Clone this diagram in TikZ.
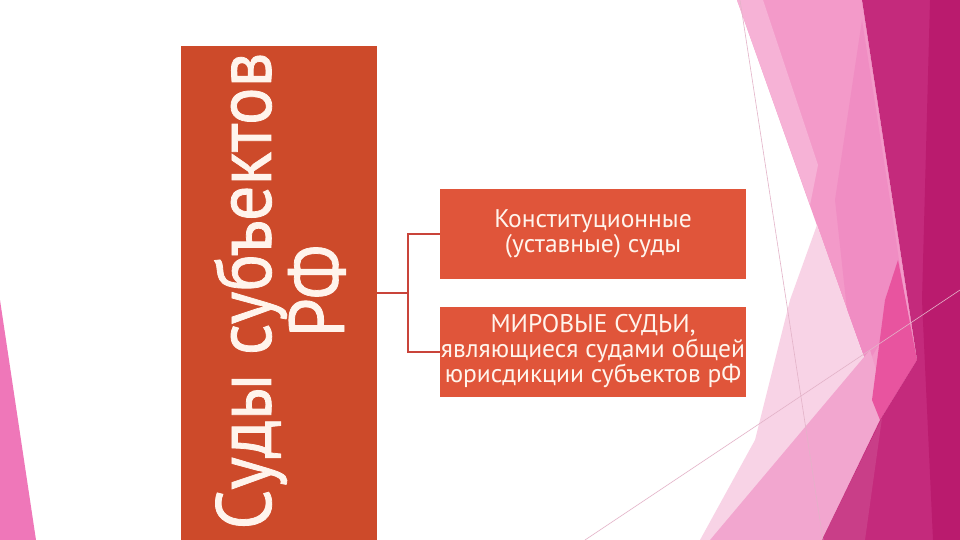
\documentclass[tikz,border=0pt]{standalone}
\usepackage{fontspec}
\setmainfont{PT Sans}
\newfontfamily\titlefont[FakeStretch=0.9,FakeBold=1]{PT Sans}
\usetikzlibrary{positioning}

\definecolor{courtdark}{HTML}{CD4A2A}
\definecolor{courtlight}{HTML}{E0553A}
\definecolor{linkred}{HTML}{C9443A}
\definecolor{paper}{HTML}{FFF4EC}
\definecolor{pinkside}{HTML}{EF77B9}
\definecolor{pinkstrip}{HTML}{F6B2D6}
\definecolor{pinkband}{HTML}{F39AC9}
\definecolor{pinkinner}{HTML}{F08DC3}
\definecolor{pinkpale}{HTML}{F8D3E6}
\definecolor{pinklow}{HTML}{F2A6CF}
\definecolor{pinkhot}{HTML}{E8549F}
\definecolor{magbase}{HTML}{C42A7C}
\definecolor{magdark}{HTML}{BA1B6E}
\definecolor{maglight}{HTML}{C93E88}
\definecolor{facetline}{HTML}{E3B3C8}

\begin{document}
\begin{tikzpicture}
[x=1pt,y=-1pt,
 court/.style={shape=rectangle,fill=courtlight,text=paper,inner sep=0pt,
   minimum width=306pt,minimum height=90pt,align=center,
   font=\fontsize{25.5}{25}\selectfont},
 rootbox/.style={shape=rectangle,fill=courtdark,inner sep=0pt,
   minimum width=196pt,minimum height=494pt,anchor=north west},
 rootlabel/.style={text=paper,rotate=90,align=center,inner sep=0pt,
   font=\titlefont\fontsize{78}{62}\selectfont},
 branch/.style={draw=linkred,line width=2pt},
 facetedge/.style={draw=facetline,line width=0.6pt}]

\fill[white] (0,0) rectangle (960,540);
\useasboundingbox (0,0) rectangle (960,540);

% facets, left and right
\fill[pinkside] (0,300) -- (36,540) -- (0,540) -- cycle;
\fill[pinkband] (737,0) -- (862,0) -- (917,360) -- (880,420) -- (867,365)
	-- (847,310) -- cycle;
\fill[pinkstrip] (737,0) -- (763,0) -- (818,165) -- (810,205) -- cycle;
\fill[pinkinner] (862,20) -- (890,200) -- (905,300) -- (867,365)
	-- (847,310) -- (835,200) -- cycle;
\fill[pinkpale] (817,225) -- (870,375) -- (710,540) -- (700,540)
	-- (755,440) -- (790,300) -- cycle;
\fill[pinklow] (710,540) -- (870,350) -- (885,400) -- (880,420)
	-- (822,540) -- cycle;
\fill[pinkhot] (898,260) -- (917,360) -- (880,420) -- (872,400)
	-- (885,300) -- cycle;
\fill[magbase] (862,0) -- (960,0) -- (960,540) -- (822,540) -- (880,420)
	-- (917,360) -- cycle;
\fill[magdark] (930,0) -- (960,0) -- (960,540) -- (933,540) -- (922,300) -- cycle;
\fill[maglight] (822,540) -- (882,418) -- (865,540) -- cycle;
\draw[facetedge] (740,0) -- (823,540);
\draw[facetedge] (585,540) -- (960,290);

% courts
\node (root) [rootbox] at (181,46) {};
\node (rootname) [rootlabel] at (280,291) {Суды субъектов\\РФ};

\node (s1) [court] at (593,233.5) {Конституционные\\(уставные) суды};
\node (s2) [court] at (593,351.5)
	{МИРОВЫЕ СУДЬИ,\\являющиеся судами общей\\юрисдикции субъектов рФ};

\draw [branch] (root.east) -- ++(31,0) coordinate (fork);
\draw [branch] (fork) |- (s1.west);
\draw [branch] (fork) |- (s2.west);
\end{tikzpicture}
\end{document}
